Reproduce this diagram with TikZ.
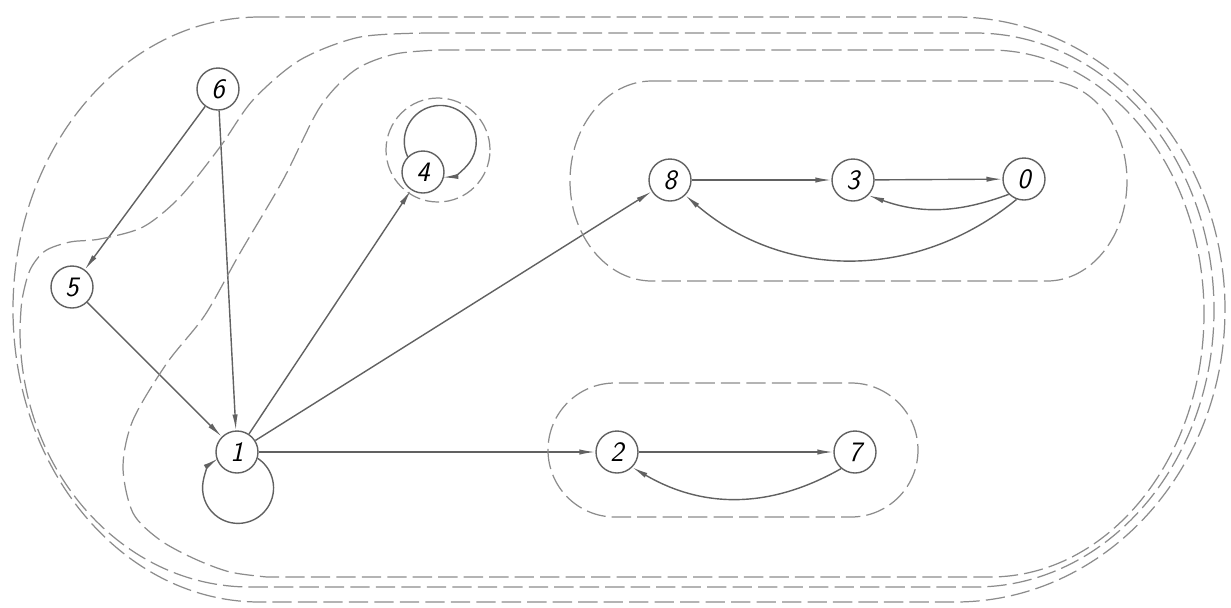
\documentclass[tikz,border=0pt]{standalone}
\usepackage{tikz}
\usetikzlibrary{arrows.meta, positioning}
\colorlet{inkline}{black!62}
\colorlet{inkdash}{black!45}

\begin{document}
\begin{tikzpicture}[>={Latex[length=9pt, width=3pt]},
    vtx/.style={circle, draw=inkline, line width=0.8pt, minimum size=0.84cm, inner sep=0pt,
      font=\fontsize{16}{16}\selectfont\sffamily\itshape},
    link/.style={->, draw=inkline, line width=0.8pt},
    scc/.style={draw=inkdash, line width=0.7pt, dash pattern=on 11pt off 3.5pt}]
    \useasboundingbox (0,0) rectangle (24.62,-12.14);

    % Vertices
    \node[vtx] (n6) at (4.36,-1.78) {6};
    \node[vtx] (n5) at (1.44,-5.74) {5};
    \node[vtx] (n1) at (4.74,-9.04) {1};
    \node[vtx] (n4) at (8.46,-3.44) {4};
    \node[vtx] (n8) at (13.40,-3.60) {8};
    \node[vtx] (n3) at (17.06,-3.60) {3};
    \node[vtx] (n0) at (20.48,-3.58) {0};
    \node[vtx] (n2) at (12.34,-9.04) {2};
    \node[vtx] (n7) at (17.10,-9.04) {7};

    % Arcs
    \draw[link] (n6) -- (n5);
    \draw[link] (n6) -- (n1);
    \draw[link] (n5) -- (n1);
    \draw[link] (n1) -- (n4);
    \draw[link] (n1) -- (n8);
    \draw[link] (n1) -- (n2);
    \draw[link] (n8) -- (n3);
    \draw[link] (n3) -- (n0);
    \draw[link] (n2) -- (n7);
    \draw[link] (n0.225) to[bend left=20] (n3.-45);
    \draw[link] (n0.250) to[bend left=40] (n8.-45);
    \draw[link] (n7.-130) to[bend left=30] (n2.-45);

    % Loops
    \draw[link] (n4.135) arc[start angle=205, end angle=-86.5, radius=0.72];
    \draw[link] (n1.-17) arc[start angle=56.3, end angle=-236.3, radius=0.71];

    % Strong components
    \draw[scc, dash pattern=on 8pt off 3pt] (8.76,-3.0) circle (1.04);
    \draw[scc] (13.04,-1.62) -- (20.94,-1.62)
      arc[start angle=90, end angle=-90, x radius=1.6, y radius=2.0] -- (13.04,-5.62)
      arc[start angle=270, end angle=90, x radius=1.64, y radius=2.0] -- cycle;
    \draw[scc, rounded corners=1.34cm] (10.96,-7.66) rectangle (18.36,-10.34);

    % Reachable sets
    \draw[scc] (8.8,-1.0) -- (19.8,-1.0)
      arc[start angle=90, end angle=-90, x radius=4.28, y radius=5.27] -- (5.34,-11.54)
      -- plot[smooth] coordinates {(5.34,-11.54) (4.6,-11.44) (3.9,-11.18) (3.2,-10.8) (2.66,-10.26)
        (2.46,-9.34) (2.66,-8.4) (3.34,-7.26) (4.1,-6.3) (4.8,-5.06) (5.66,-3.6) (6.4,-2.14)
        (7.1,-1.4) (7.9,-1.08) (8.8,-1.0)} -- cycle;
    \draw[scc] (8.6,-0.66) -- (19.5,-0.66)
      arc[start angle=90, end angle=-90, x radius=4.78, y radius=5.54] -- (5.0,-11.74)
      arc[start angle=270, end angle=180, x radius=4.6, y radius=5.14]
      -- plot[smooth] coordinates {(0.4,-6.6) (0.44,-6.0) (0.6,-5.4) (0.9,-5.02) (1.4,-4.84)
        (2.0,-4.78) (2.86,-4.54) (3.6,-3.94) (4.4,-2.94) (5.06,-2.0) (6.0,-1.2) (7.2,-0.74)
        (8.6,-0.66)} -- cycle;
    \draw[scc] (5.2,-0.34) -- (19.1,-0.34)
      arc[start angle=90, end angle=-90, x radius=5.4, y radius=5.85] -- (5.2,-12.04)
      arc[start angle=270, end angle=90, x radius=4.94, y radius=5.85] -- cycle;
\end{tikzpicture}
\end{document}
